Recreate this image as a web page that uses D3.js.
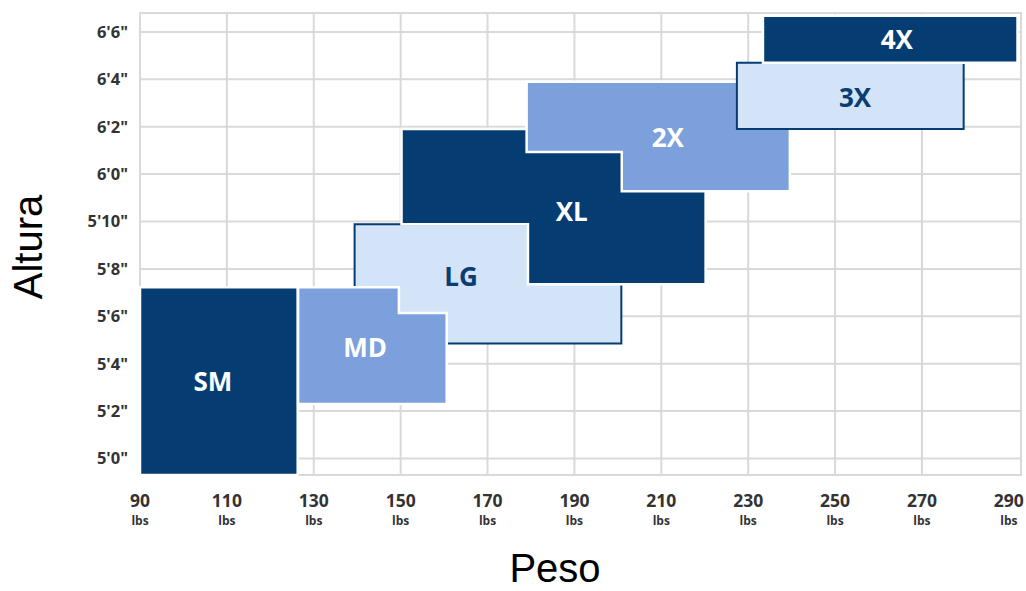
<!DOCTYPE html>
<html>
<head>
<meta charset="utf-8">
<script src="https://cdn.jsdelivr.net/npm/d3@7"></script>
<style>
  html, body { margin: 0; padding: 0; background: #ffffff; }
  svg { display: block; }
</style>
</head>
<body>
<svg id="chart" width="1026" height="591"></svg>
<script>
// ---- data ----
const sizes      = ["SM", "MD", "LG", "XL", "2X", "3X", "4X"];
const weightMin  = [90,    126.4, 139.4, 150.2, 179.0, 227.4, 233.4];
const weightMax  = [126.3, 160.6, 200.8, 220.2, 239.6, 279.6, 292.0];
const heightMin  = [59.3,  62.3,  64.85, 67.35, 71.28, 73.9,  76.7];
const heightMax  = [67.22, 67.22, 69.88, 73.9,  75.9,  76.7,  78.68];
// cut-out corner of stepped shapes
const notchCorner = [null, "top-right", null, "bottom-left", "bottom-left", null, null];
const notchWeight = [null, 149.6, null, 179.3, 200.9, null, null];
const notchHeight = [null, 66.14, null, 69.88, 72.93, null, null];
const tone        = ["dark", "medium", "light", "dark", "medium", "light", "dark"];
const labelWeight = [106.8, 141.8, 163.9, 189.4, 211.5, 254.6, 264.2];
const labelHeight = [63.23, 64.66, 67.66, 70.4, 73.53, 75.21, 77.66];
const drawOrder   = [0, 2, 1, 3, 4, 5, 6];

const xTicks      = [90, 110, 130, 150, 170, 190, 210, 230, 250, 270, 290];
const xGridTicks  = [110, 130, 150, 170, 190, 210, 230, 250, 270];
const xTickLabels = ["90", "110", "130", "150", "170", "190", "210", "230", "250", "270", "290"];
const xUnitLabel  = "lbs";
const yTicks      = [60, 62, 64, 66, 68, 70, 72, 74, 76, 78];
const yTickLabels = ["5'0\"", "5'2\"", "5'4\"", "5'6\"", "5'8\"", "5'10\"", "6'0\"", "6'2\"", "6'4\"", "6'6\""];
const xDomain = [90, 292.8];
const yDomain = [59.3, 78.8];
const xTitle = "Peso";
const yTitle = "Altura";

// ---- styles ----
const colors = { dark: "#053d73", medium: "#7ba0dc", light: "#d3e3f8" };
const labelColors = { dark: "#ffffff", medium: "#ffffff", light: "#0a3d72" };
const gridColor = "#d9d9d9";

const svg = d3.select("#chart");
const x = d3.scaleLinear().domain(xDomain).range([140, 1021]);
const y = d3.scaleLinear().domain(yDomain).range([475, 13]);

// grid
const grid = svg.append("g");
grid.selectAll("line.v").data(xGridTicks).join("line")
  .attr("x1", d => x(d)).attr("x2", d => x(d))
  .attr("y1", y(yDomain[0])).attr("y2", y(yDomain[1]))
  .attr("stroke", gridColor).attr("stroke-width", 2);
grid.selectAll("line.h").data(yTicks).join("line")
  .attr("x1", x(xDomain[0])).attr("x2", x(xDomain[1]))
  .attr("y1", d => y(d)).attr("y2", d => y(d))
  .attr("stroke", gridColor).attr("stroke-width", 2);
grid.append("rect")
  .attr("x", x(xDomain[0])).attr("y", y(yDomain[1]))
  .attr("width", x(xDomain[1]) - x(xDomain[0]))
  .attr("height", y(yDomain[0]) - y(yDomain[1]))
  .attr("fill", "none").attr("stroke", gridColor).attr("stroke-width", 2);

// shapes
function shapePoints(i) {
  const w0 = weightMin[i], w1 = weightMax[i], h0 = heightMin[i], h1 = heightMax[i];
  let pts;
  if (notchCorner[i] === "top-right") {
    const nw = notchWeight[i], nh = notchHeight[i];
    pts = [[w0, h1], [nw, h1], [nw, nh], [w1, nh], [w1, h0], [w0, h0]];
  } else if (notchCorner[i] === "bottom-left") {
    const nw = notchWeight[i], nh = notchHeight[i];
    pts = [[w0, h1], [w1, h1], [w1, h0], [nw, h0], [nw, nh], [w0, nh]];
  } else {
    pts = [[w0, h1], [w1, h1], [w1, h0], [w0, h0]];
  }
  return pts.map(p => [x(p[0]), y(p[1])]);
}

const shapes = svg.append("g");
drawOrder.forEach(i => {
  const outlined = tone[i] === "light";
  shapes.append("polygon")
    .attr("points", shapePoints(i).map(p => p.join(",")).join(" "))
    .attr("fill", colors[tone[i]])
    .attr("stroke", outlined ? colors.dark : "#ffffff")
    .attr("stroke-width", outlined ? 2 : 2.5)
    .attr("stroke-linejoin", "miter");
});

// size labels
svg.append("g").selectAll("text").data(sizes).join("text")
  .attr("x", (d, i) => x(labelWeight[i]))
  .attr("y", (d, i) => y(labelHeight[i]))
  .attr("dy", "0.36em")
  .attr("text-anchor", "middle")
  .attr("font-family", "'Open Sans', sans-serif")
  .attr("font-weight", 700)
  .attr("font-size", 26)
  .attr("fill", (d, i) => labelColors[tone[i]])
  .text(d => d);

// y tick labels
svg.append("g").selectAll("text").data(yTicks).join("text")
  .attr("x", 128)
  .attr("y", d => y(d))
  .attr("dy", "0.36em")
  .attr("text-anchor", "end")
  .attr("font-family", "'Open Sans', sans-serif")
  .attr("font-weight", 700)
  .attr("font-size", 16.5)
  .attr("fill", "#333333")
  .text((d, i) => yTickLabels[i]);

// x tick labels
const xl = svg.append("g").selectAll("g").data(xTicks).join("g")
  .attr("transform", d => `translate(${x(d)},0)`);
xl.append("text")
  .attr("y", 507)
  .attr("text-anchor", "middle")
  .attr("font-family", "'Open Sans', sans-serif")
  .attr("font-weight", 700)
  .attr("font-size", 17.5)
  .attr("fill", "#333333")
  .text((d, i) => xTickLabels[i]);
xl.append("text")
  .attr("y", 525)
  .attr("text-anchor", "middle")
  .attr("font-family", "'Open Sans', sans-serif")
  .attr("font-weight", 700)
  .attr("font-size", 12)
  .attr("fill", "#333333")
  .text(xUnitLabel);

// axis titles
svg.append("text")
  .attr("x", 555).attr("y", 582)
  .attr("text-anchor", "middle")
  .attr("font-family", "'Liberation Sans', Arial, sans-serif")
  .attr("font-size", 40)
  .attr("fill", "#000000")
  .text(xTitle);
svg.append("text")
  .attr("transform", "translate(42,247) rotate(-90)")
  .attr("text-anchor", "middle")
  .attr("font-family", "'Liberation Sans', Arial, sans-serif")
  .attr("font-size", 40)
  .attr("fill", "#000000")
  .text(yTitle);
</script>
</body>
</html>
